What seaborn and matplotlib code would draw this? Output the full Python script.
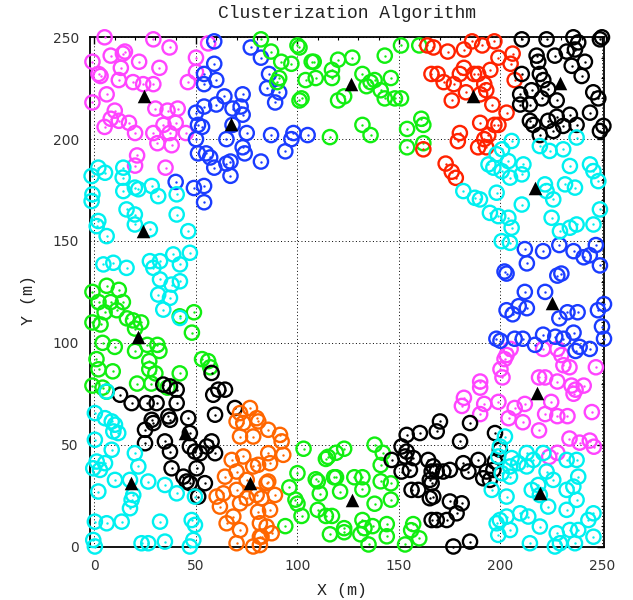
import matplotlib
matplotlib.use("Agg")
import matplotlib.pyplot as plt
from matplotlib.ticker import MultipleLocator
import seaborn as sns

# ── colours (gnuplot-like) ──────────────────────────────────────
MAG = "#ff44ff"; BLU = "#1a3cff"; GRN = "#11ee11"; RED = "#ff2200"
BLK = "#000000"; CYN = "#00f0f0"; ORG = "#ff6600"

# ── node positions per colour group ─────────────────────────────
mag_x = [5, 29, 37, 8, 15, 14, -1, 22, 13, 32, 2, 3, 12, 19, 24, 29, 50, 46, 50, 56,
         6, -1, 30, 36, 41, 10, 8, 12, 5, 17, 20, 29, 34, 40, 37, 45, 31, 38, 21, 20, 35,
         205, 203, 202, 200, 201, 190, 190, 182, 181, 192, 199, 190, 207, 204, 212, 211,
         219, 221, 228, 230, 231, 234, 247, 219, 222, 228, 235, 237, 241, 236, 225, 222,
         228, 233, 245, 234, 239, 244, 246, 228, 224]
mag_y = [250, 249, 245, 241, 243, 242, 238, 238, 235, 235, 232, 231, 229, 228, 227, 227,
         240, 228, 233, 247, 222, 218, 215, 214, 215, 214, 210, 209, 206, 208, 203, 203,
         207, 208, 203, 203, 198, 197, 192, 187, 186,
         97, 94, 92, 87, 83, 81, 78, 73, 69, 70, 71, 65, 68, 63, 70, 61, 57, 97, 97, 94,
         89, 88, 88, 83, 83, 81, 79, 77, 79, 75, 71, 65, 64, 64, 66, 53, 51, 52, 49, 46, 44]

blu_x = [59, 59, 54, 54, 60, 73, 64, 60, 54, 50, 51, 53, 68, 72, 73, 68, 75, 65, 50, 51,
         55, 57, 59, 67, 65, 73, 74, 67, 40, 49, 54, 54,
         77, 82, 86, 85, 91, 89, 87, 98, 97, 105, 94, 82,
         212, 221, 229, 236, 241, 244, 249, 247, 213, 202, 203, 228, 230,
         212, 222, 203, 206, 209, 213, 229, 233, 238, 248, 251, 250, 198, 200, 207, 211,
         217, 221, 227, 231, 236, 239, 244, 251, 237]
blu_y = [248, 237, 232, 227, 229, 222, 221, 217, 216, 213, 207, 206, 215, 216, 212, 207,
         203, 200, 200, 193, 193, 191, 186, 189, 188, 196, 193, 182, 179, 176, 177, 169,
         245, 240, 232, 225, 223, 218, 202, 203, 200, 202, 194, 189,
         146, 145, 148, 145, 142, 143, 138, 148, 139, 135, 134, 133, 134,
         125, 125, 116, 114, 118, 117, 112, 115, 115, 116, 119, 108, 102, 101, 102, 102,
         99, 104, 103, 102, 105, 98, 97, 102, 96]

grn_x = [82, 87, 92, 97, 100, 101, 107, 108, 120, 127, 117, 117, 109, 104, 91, 90, 102,
         101, 120, 123, 132, 136, 134, 138, 141, 146, 143, 148, 151, 143, 151, 160, 132,
         136, 116, 154, 154, 161, 162, 162,
         6, 12, -1, 2, 8, 14, 11, 5, -1, 3, 16, 19, 23, 20, 4, 10, 20, 26, 31, 32, 27, 27,
         30, 42, 1, 2, 9, -1, 6, 4, 21, 28, 36, 49, 42, 48, 53, 56, 57,
         103, 115, 114, 119, 123, 138, 142, 141, 100, 96, 99, 100, 102, 94, 109, 110, 118,
         119, 111, 121, 128, 132, 132, 141, 146, 146, 138, 110, 114, 117, 116, 123, 123,
         132, 133, 137, 131, 135, 144, 144, 153, 157, 156, 160]
grn_y = [249, 243, 238, 237, 246, 245, 238, 238, 239, 240, 234, 230, 230, 229, 230, 228,
         220, 219, 219, 221, 232, 228, 226, 229, 224, 230, 220, 220, 220, 241, 246, 246,
         207, 202, 201, 205, 196, 210, 207, 198,
         128, 126, 125, 120, 120, 120, 116, 115, 110, 109, 112, 111, 110, 107, 100, 98, 96,
         99, 99, 96, 91, 87, 85, 85, 92, 87, 86, 79, 76, 78, 80, 80, 78, 115, 113, 105, 92,
         91, 88,
         48, 44, 43, 46, 48, 50, 46, 40, 36, 29, 23, 21, 15, 10, 33, 32, 34, 34, 26, 27, 34,
         34, 28, 32, 31, 23, 21, 18, 15, 15, 6, 9, 7, 13, 9, 10, 6, 1, 11, 5, 1, 11, 8, 4]

red_x = [167, 174, 182, 186, 191, 197, 199, 206, 205, 182, 187, 180, 189, 195, 192, 169,
         172, 177, 176, 183, 190, 193, 196, 203, 190, 197, 199, 194, 192, 189, 193, 180,
         179, 173, 176, 178, 207, 164, 166, 162]
red_y = [245, 243, 244, 248, 246, 248, 240, 242, 237, 235, 232, 232, 232, 234, 227, 232,
         228, 227, 219, 223, 222, 224, 217, 213, 208, 207, 207, 202, 200, 196, 196, 203,
         199, 188, 184, 181, 229, 246, 232, 195]

blk_x = [210.5, 222.7, 235.9, 238.3, 249, 250, 217.8, 218.6, 226.8, 232.6, 236.7, 235.1,
         241.6, 210.5, 219.4, 221.1, 240, 223.5, 215.3, 209.7, 209.7, 214.5, 220.3, 227.7,
         245.7, 248.2, 214.5, 216.2, 223.5, 227.7, 234.2, 244.1, 250.7, 249, 219.4, 226,
         230.9, 237.5,
         12.6, 18.3, 25.7, 30.6, 33.9, 37.2, 40.5, 40.5, 46.2, 37.2, 36.4, 28.2, 29, 24.9,
         24.9, 34.7, 37.2, 38, 47, 47, 49.5, 52, 55.3, 57.7, 59.4, 50.3, 43.8, 45.4, 47,
         54.4, 51.1, 57.7, 58.5, 61, 64.3, 59.4, 69.2,
         153.8, 160.3, 151.3, 153.8, 153, 157.1, 146.4, 151.3, 155.4, 156.2, 159.5, 164.4,
         166.1, 165.2, 165.2, 166.1, 170.2, 168.6, 185, 180.1, 197.3, 199.7, 197.3, 196.5,
         193.2, 191.5, 194.8, 189.1, 181.7, 184.2, 175.1, 171.8, 168.6, 166.9, 166.1,
         175.1, 180.9, 178.4, 173.5, 168.6, 166.9, 185, 176.8]
blk_y = [249, 249, 250, 247.5, 249, 250, 241, 238, 241, 243, 244, 236, 238, 232, 232, 229,
         231, 224.5, 224, 222, 217, 217, 220, 219, 223, 220, 209, 207, 209, 211, 212, 213,
         206.5, 204, 202, 204, 206.5, 207,
         74.5, 70.4, 70.4, 70.4, 79.5, 78.6, 77, 70.4, 63, 62.2, 63.9, 62.2, 60.6, 57.3,
         50.7, 51.6, 46.6, 38.4, 55.7, 49.1, 46.6, 45.8, 49.1, 51.6, 45.8, 38.4, 34.3,
         31.9, 31.1, 31.1, 24.5, 85.2, 74.5, 77, 77, 64.7, 68,
         54.8, 55.7, 49.1, 46.6, 44.2, 43.4, 42.5, 36.8, 37.6, 27.8, 27.8, 42.5, 36.8,
         32.7, 23.7, 13, 61.4, 56.5, 60.6, 51.6, 55.7, 47.5, 41.7, 37.6, 36.8, 33.5, 32.7,
         42.5, 40.9, 36.8, 37.6, 36.8, 36.8, 39.3, 31.1, 22.1, 21.2, 16.3, 13, 13, 24.5,
         2.4, 0]

cyn_x = [-1.4, 5.2, 1.9, -1, -1.4, 14.2, 13.9, 19.9, 21.6, 28.2, 31.4, 14.2, 15.8, 19.9,
         19.9, 27.3, 40.5, 40.5, 46.2, 1.9, 1.1, 6, 4.4, 9.3, 15.8, 27.3, 29, 32.3, 38.8,
         42.1, 47, 32.3, 38, 42.1,
         31.4, 37.2, 33.9, 42.1, 6, 0.2, 5.2, 8.5, 10.1, 9.3, 11.7, 0.2, 8.5, 1.1, 5.2,
         -0.6, 2.7, 10.1, 19.9, 21.6, 17.5, 26.5, 34.7, 40.5, 49.5, 19.1, 18.3, 17.5, 1.9,
         0.2, 6, 13.4, 32.3, 34.7, 26.5, 23.2, -0.6, 0.2, 47.9, 49.5, 48.7, 47,
         205.5, 200.8, 198.1, 194.1, 196.5, 203.9, 211.3, 210.5, 204.7, 200.6, 181.7,
         187.4, 189.9, 198.1, 194.8, 198.9, 203.9, 205.5, 200.6, 204.7, 210.5, 219.4,
         224.2, 230.9, 237.5, 234.2, 231.8, 236.7, 244.1, 245.8, 248.2, 221.9, 226, 225.2,
         229.3, 234.2, 237.5, 245.8, 249, 222.7,
         202.2, 199.7, 198.9, 205.5, 204.7, 204.7, 200.6, 195.7, 203, 208.8, 212.9, 212.9,
         216.2, 221.1, 222.7, 226, 232.6, 237.5, 238.3, 232.6, 235.9, 215.4, 223.5, 219.4,
         232.6, 237.5, 209.7, 203, 199.7, 198.1, 204.7, 198.9, 213.7, 219.4, 214.5, 226.8,
         234.2, 238.3, 243.3, 245.8, 245.8, 236.7, 229.3, 227.7, 218.6]
cyn_y = [181.9, 183.5, 186, 172.9, 169.6, 186, 181.1, 176.2, 175.4, 177, 172, 174.5, 165.5,
         163, 158.1, 155.7, 172.9, 163, 154.8, 159.8, 157.3, 152.4, 138.5, 139.3, 136.8,
         140.1, 136.8, 140.1, 143.4, 138.5, 144.2, 131.1, 128.6, 130.2,
         123.7, 122.1, 116.3, 112.2, 76.1, 65.5, 63, 61.4, 59.8, 56.5, 55.7, 52.4, 47.5,
         41.7, 40.9, 38.4, 37.6, 32.7, 45.8, 39.3, 32.7, 31.9, 30.2, 26.1, 24.5, 25.3,
         22.9, 18.8, 27, 12.2, 11.4, 12.2, 12.2, 2.4, 1.6, 1.6, 3.2, 0, 13, 10.6, 3.2, 0,
         199.1, 195, 192.6, 187.6, 186, 189.2, 187.6, 182.7, 181.1, 184.3, 174.5, 171.2,
         170.4, 173.7, 163.8, 162.2, 161.4, 156.5, 149.9, 149.1, 167.9, 196.6, 194.2, 195,
         200.8, 186.8, 177.8, 176.2, 187.6, 184.3, 179.4, 177.8, 170.4, 161.4, 154.8,
         156.5, 158.1, 158.1, 165.5, 174.5,
         54, 49.1, 44.2, 43.4, 39.3, 34.3, 36, 27.8, 24.5, 40.9, 45.9, 39.3, 42.5, 45.9,
         36.8, 32.7, 42.5, 42.5, 34.3, 27.8, 29.4, 27.8, 19.6, 25.3, 18, 22.9, 16.3, 14.7,
         13, 11.4, 8.1, 5.7, 14.7, 9.8, 1.6, 0, 8.1, 8.1, 13, 16.3, 4.8, 1.6, 1.6, 6.5, 30.2]

org_x = [71.7, 76.6, 70, 73.3, 80.7, 71.7, 78.2, 73.3, 67.6, 78.2, 70, 64.3, 75, 60.2,
         63.5, 70, 71.7, 75, 79.9, 61.8, 68.4, 65.1, 71.7, 81.5, 70, 78.2, 81.5,
         79.9, 85.6, 91.4, 92.2, 85.6, 93, 86.5, 80.6, 85.6, 84.8, 88.9, 82.3, 86.5, 80.6,
         84.8, 87.3, 82.3, 81.5]
org_y = [65.5, 68, 61.4, 60.6, 61.4, 54, 54, 44.2, 42.5, 39.3, 36.8, 34.3, 32.7, 24.5,
         26.1, 27.8, 21.2, 23.7, 25.3, 19.6, 14.7, 11.4, 8.1, 11.4, 1.6, 0, 4.8,
         63, 57.3, 54.8, 51.6, 45.8, 45, 40.9, 40.1, 31.9, 31.1, 25.3, 23.7, 18, 17.1, 9.8,
         6.5, 4.8, 0.7]

# cluster heads
head_x = [24.5, 67.2, 126.4, 186.3, 229.3, 23.7, 21.3, 217, 225.2, 217.8, 219.4, 44.6,
          18, 76.6, 126.7]
head_y = [221.2, 207.3, 227, 221.2, 227.8, 154.8, 102.7, 176.2, 119.6, 75.3, 26.1, 55.8,
          31.4, 31.1, 22.9]

groups = [(mag_x, mag_y, MAG), (blu_x, blu_y, BLU), (grn_x, grn_y, GRN),
          (red_x, red_y, RED), (blk_x, blk_y, BLK), (cyn_x, cyn_y, CYN),
          (org_x, org_y, ORG)]

sns.set_theme(style="white")
plt.rcParams["font.family"] = ["DejaVu Sans"]

fig = plt.figure(figsize=(6.33, 6.0), dpi=100)
ax = fig.add_axes([90 / 633, 53.5 / 600, 514 / 633, 509.2 / 600])

for xs, ys, col in groups:
    sns.scatterplot(x=xs, y=ys, ax=ax, marker="o", s=105, color=col,
                    facecolor="none", edgecolor=col, linewidth=1.7,
                    clip_on=False, zorder=3, legend=False)
    sns.scatterplot(x=xs, y=ys, ax=ax, marker="o", s=3, color=col,
                    linewidth=0, clip_on=False, zorder=3, legend=False)

sns.scatterplot(x=head_x, y=head_y, ax=ax, marker="^", s=95, color="black",
                linewidth=0, clip_on=False, zorder=4, legend=False)

ax.set_xlim(-2.2, 251)
ax.set_ylim(0, 250)
ax.xaxis.set_major_locator(MultipleLocator(50))
ax.yaxis.set_major_locator(MultipleLocator(50))
ax.xaxis.set_minor_locator(MultipleLocator(10))
ax.yaxis.set_minor_locator(MultipleLocator(10))
ax.tick_params(which="both", direction="in", top=True, right=True, color="black")
ax.tick_params(which="major", length=5, width=1, labelsize=10, labelcolor="#333333")
ax.tick_params(which="minor", length=2.5, width=0.8)
ax.tick_params(axis="x", pad=9)
ax.tick_params(axis="y", pad=8)
ax.grid(True, which="major", linestyle=(0, (1, 2.5)), color="black", linewidth=0.7)
ax.set_axisbelow(True)
for sp in ax.spines.values():
    sp.set_color("black"); sp.set_linewidth(1.3)
ax.set_xlabel(""); ax.set_ylabel("")

fig.text(347 / 633, 1 - 13 / 600, "Clusterization Algorithm", ha="center", va="center",
         family="Liberation Mono", fontsize=13, color="#222222")
fig.text(342 / 633, 1 - 590 / 600, "X (m)", ha="center", va="center",
         family="Liberation Mono", fontsize=12, color="#222222")
fig.text(28 / 633, 1 - 300 / 600, "Y (m)", ha="center", va="center", rotation=90,
         family="Liberation Mono", fontsize=12, color="#222222")

fig.savefig("out.png", dpi=100)
